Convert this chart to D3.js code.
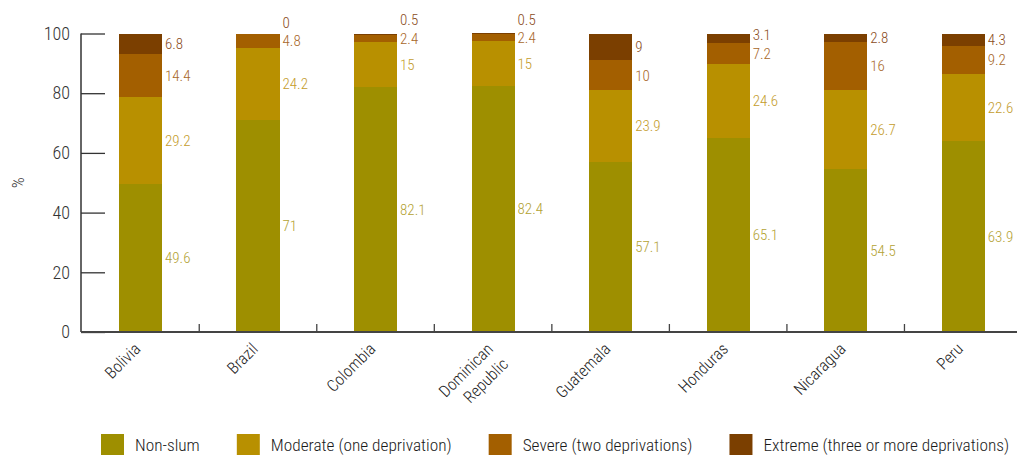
<!DOCTYPE html>
<html>
<head>
<meta charset="utf-8">
<script src="https://cdn.jsdelivr.net/npm/d3@7"></script>
<style>
  html, body { margin: 0; padding: 0; background: #fff; }
  svg { display: block; }
  text { font-family: "Roboto Condensed", "Liberation Sans Narrow", "DejaVu Sans Condensed", sans-serif; font-weight: 300; }
</style>
</head>
<body>
<svg id="chart" width="1017" height="455"></svg>
<script>
const categories = ["Bolivia", "Brazil", "Colombia", "Dominican Republic", "Guatemala", "Honduras", "Nicaragua", "Peru"];
const seriesNames = ["Non-slum", "Moderate (one deprivation)", "Severe (two deprivations)", "Extreme (three or more deprivations)"];
const nonSlum  = [49.6, 71, 82.1, 82.4, 57.1, 65.1, 54.5, 63.9];
const moderate = [29.2, 24.2, 15, 15, 23.9, 24.6, 26.7, 22.6];
const severe   = [14.4, 4.8, 2.4, 2.4, 10, 7.2, 16, 9.2];
const extreme  = [6.8, 0, 0.5, 0.5, 9, 3.1, 2.8, 4.3];
const yTicks = [0, 20, 40, 60, 80, 100];
const colors = ["#9e8f00", "#b89000", "#a35f00", "#7b3f00"];
const labelColors = ["#b3a232", "#c49c2c", "#a8682a", "#8a4c22"];

const series = [nonSlum, moderate, severe, extreme];
const rows = categories.map((c, i) => ({ cat: c, vals: series.map(s => s[i]) }));

const svg = d3.select("#chart");
const x = d3.scaleBand().domain(categories).range([81.7, 1022]).paddingInner(0).paddingOuter(0);
const y = d3.scaleLinear().domain([0, 100]).range([332, 33.5]);
const barW = x.bandwidth() * 0.366;
const barOff = (x.bandwidth() - barW) / 2;

// Bars
rows.forEach(r => {
  let cum = 0;
  const g = svg.append("g");
  const labels = [];
  r.vals.forEach((v, k) => {
    const y0 = cum, y1 = cum + v;
    g.append("rect")
      .attr("x", x(r.cat) + barOff)
      .attr("width", barW)
      .attr("y", y(y1))
      .attr("height", Math.max(0, y(y0) - y(y1)))
      .attr("fill", colors[k])
      .attr("shape-rendering", "crispEdges");
    labels.push({ v, k, cy: y((y0 + y1) / 2) });
    cum = y1;
  });
  // resolve overlaps upward
  let prev = Infinity;
  labels.forEach(l => {
    l.y = Math.min(l.cy, prev - 18.5);
    prev = l.y;
  });
  labels.forEach(l => {
    g.append("text")
      .attr("x", x(r.cat) + barOff + barW + 3)
      .attr("y", l.y)
      .attr("dy", "0.36em")
      .attr("font-size", 15)
      .attr("fill", labelColors[l.k])
      .text(String(l.v));
  });
});

// Y axis
const yAxis = d3.axisLeft(y).tickValues(yTicks).tickSizeInner(-24).tickSizeOuter(0).tickPadding(11);
const ya = svg.append("g").attr("transform", "translate(81,0)").call(yAxis);
ya.select(".domain").remove();
ya.selectAll(".tick line").attr("stroke", "#333").attr("stroke-width", 1.3);
ya.selectAll(".tick text").attr("font-size", 18).attr("fill", "#333")
  .style("font-family", "'Roboto Condensed', 'Liberation Sans Narrow', 'DejaVu Sans Condensed', sans-serif")
  .style("font-weight", 300);
svg.append("line").attr("x1", 81).attr("x2", 81).attr("y1", y(100)).attr("y2", y(0))
  .attr("stroke", "#333").attr("stroke-width", 1.5);

svg.append("text")
  .attr("transform", "translate(24," + y(50) + ") rotate(-90)")
  .attr("text-anchor", "middle")
  .attr("font-size", 17)
  .attr("fill", "#333")
  .text("%");

// X axis
svg.append("line").attr("x1", 81).attr("x2", 1022).attr("y1", y(0)).attr("y2", y(0))
  .attr("stroke", "#444").attr("stroke-width", 1.8);
categories.slice(1).forEach(c => {
  svg.append("line").attr("x1", x(c)).attr("x2", x(c)).attr("y1", y(0)).attr("y2", y(0) - 8)
    .attr("stroke", "#444").attr("stroke-width", 1.3);
});

// Category labels
categories.forEach(c => {
  const cx = x(c) + x.bandwidth() / 2;
  const t = svg.append("text")
    .attr("transform", "translate(" + (cx + 1) + "," + 350 + ") rotate(-45)")
    .attr("text-anchor", "end")
    .attr("font-size", 16.5)
    .attr("fill", "#222");
  const parts = c === "Dominican Republic" ? ["Dominican", "Republic"] : [c];
  parts.forEach((p, i) => {
    t.append("tspan").attr("x", 0).attr("dy", i === 0 ? "0" : "1.3em").text(p);
  });
});

// Legend
const legend = svg.append("g").attr("transform", "translate(101,434)");
let lx = 0;
seriesNames.forEach((n, k) => {
  const g = legend.append("g").attr("transform", "translate(" + lx + ",0)");
  g.append("rect").attr("width", 23).attr("height", 21).attr("fill", colors[k]);
  const t = g.append("text").attr("x", 34).attr("y", 10.5).attr("dy", "0.36em")
    .attr("font-size", 17.3).attr("fill", "#1a1a1a").text(n);
  lx += 34 + t.node().getComputedTextLength() + 37;
});
</script>
</body>
</html>
